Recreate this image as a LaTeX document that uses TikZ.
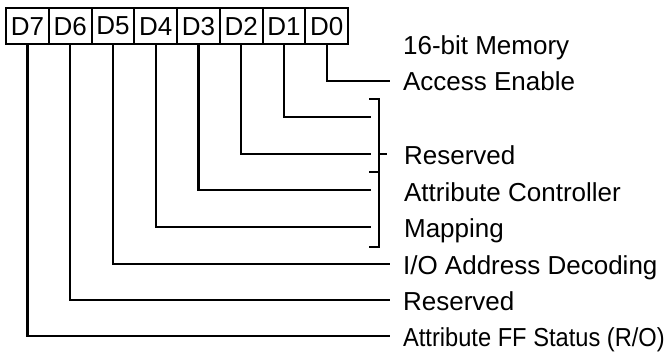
\documentclass[tikz,border=0pt]{standalone}
\usepackage{graphicx}
\usepackage{fontspec}
\setmainfont{Liberation Sans}
\begin{document}
\begin{tikzpicture}[x=1pt,y=-1pt,line width=2.2pt,line cap=rect,
  cell/.style={draw,minimum width=42.75pt,minimum height=36pt,inner sep=0pt,
    anchor=north west,font=\fontsize{26}{30}\selectfont},
  lbl/.style={anchor=base west,inner sep=0pt,font=\fontsize{26}{30}\selectfont}]
\useasboundingbox (0,0) rectangle (668,354);
\foreach \i in {0,...,7}{
  \node[cell] (c\i) at ({5+(7-\i)*42.75},7) {D\i};
}
% end points of the connectors
\coordinate (e0) at (389,81);
\coordinate (e1) at (370,117);
\coordinate (e2) at (370,154);
\coordinate (e3) at (370,190);
\coordinate (e4) at (370,227);
\coordinate (e5) at (389,264);
\coordinate (e6) at (389,300);
\coordinate (e7) at (389,336);
\foreach \i in {0,...,7}{
  \draw (c\i.south) |- (e\i);
}
% brackets
\draw (370,99) -- (379,99) -- (379,172) -- (370,172);
\draw (379,154) -- (386,154);
\draw (379,172) -- (379,247) -- (370,247);
% labels
\node[lbl] (l0a) at (402,54.5) {16-bit Memory};
\node[lbl] (l0b) at (402,90.5) {Access Enable};
\node[lbl] (l12) at (403,164) {Reserved};
\node[lbl] (l34a) at (403,201) {Attribute Controller};
\node[lbl] (l34b) at (403,237.5) {Mapping};
\node[lbl] (l5) at (402,274) {I/O Address Decoding};
\node[lbl] (l6) at (402,310) {Reserved};
\node[lbl] (l7) at (402,346) {\scalebox{0.91}[1]{Attribute FF Status (R/O)}};
\end{tikzpicture}
\end{document}
